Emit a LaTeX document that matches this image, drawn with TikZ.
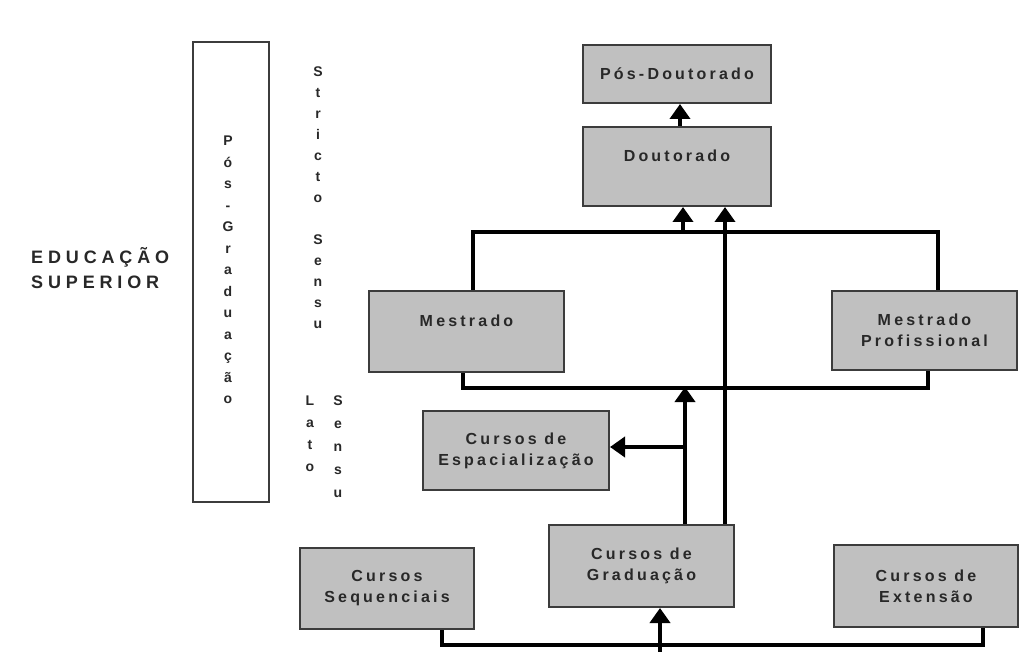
\documentclass[tikz,border=0pt]{standalone}
\usepackage{fontspec}
\usetikzlibrary{arrows.meta}
\setmainfont{Liberation Sans}
\newfontfamily\boxfont{Liberation Sans}[LetterSpace=20]
\newfontfamily\headfont{Liberation Sans}[LetterSpace=27]
\definecolor{boxgray}{RGB}{192,192,192}
\definecolor{edgegray}{RGB}{60,60,60}
\definecolor{inkgray}{RGB}{40,40,40}
\tikzset{
  level/.style={draw=edgegray, line width=2pt, fill=boxgray, inner sep=0pt,
    align=center, text=inkgray,
    font=\boxfont\bfseries\fontsize{16}{21}\selectfont},
  conn/.style={line width=4pt, draw=black},
  arr/.style={conn, -{Triangle[length=15pt,width=20pt]}},
  vlabel/.style={align=center, text=inkgray, inner sep=0pt,
    font=\bfseries\fontsize{14}{21}\selectfont},
}
\begin{document}
\begin{tikzpicture}[x=1pt,y=-1pt]
\useasboundingbox[fill=white] (0,0) rectangle (1023,652);

% left column: labels
\node[anchor=west, align=left, inner sep=0pt, text=inkgray,
      font=\headfont\bfseries\fontsize{18}{25}\selectfont] (edu) at (31,268)
  {EDUCAÇÃO\\SUPERIOR};
\node[draw=edgegray, line width=2pt, fill=white, minimum width=76pt,
      minimum height=460pt, inner sep=0pt] (pg) at (231,272) {};
\node[vlabel, font=\bfseries\fontsize{14}{21.5}\selectfont] (pgtext) at (228,270)
  {P\\ó\\s\\-\\G\\r\\a\\d\\u\\a\\ç\\ã\\o};
\node[vlabel] (stricto) at (318,198)
  {S\\t\\r\\i\\c\\t\\o\\\mbox{}\\S\\e\\n\\s\\u};
\node[vlabel, anchor=north, font=\bfseries\fontsize{14}{22}\selectfont] (lato) at (310,396)
  {L\\a\\t\\o};
\node[vlabel, anchor=north, font=\bfseries\fontsize{14}{23}\selectfont] (latosensu) at (338,396)
  {S\\e\\n\\s\\u};

% course levels
\node[level, minimum width=188pt, minimum height=58pt] (pdout) at (677,74) {Pós-Doutorado};
\node[level, minimum width=188pt, minimum height=79pt] (dout) at (677,166.5) {Doutorado\\\mbox{}};
\node[level, minimum width=195pt, minimum height=81pt] (mes) at (466.5,331.5) {Mestrado\\\mbox{}};
\node[level, minimum width=185pt, minimum height=79pt] (mp) at (924.5,330.5) {Mestrado\\Profissional};
\node[level, minimum width=186pt, minimum height=79pt] (esp) at (516,450.5) {Cursos de\\Espacialização};
\node[level, minimum width=185pt, minimum height=82pt] (grad) at (641.5,566) {Cursos de\\Graduação};
\node[level, minimum width=174pt, minimum height=81pt] (seq) at (387,588.5) {Cursos\\Sequenciais};
\node[level, minimum width=184pt, minimum height=82pt] (ext) at (926,586) {Cursos de\\Extensão};

% junction points on the bus lines
\coordinate (j1) at (683,233);
\coordinate (j2) at (685,387);
\coordinate (src) at (660,652);

% upper bus: both master's levels lead to the doctorate
\draw[conn] ([xshift=6.5pt]mes.north) -- ++(0,-58) -| ([xshift=13.5pt]mp.north);
\draw[arr] (j1) -- (j1 |- dout.south);
\draw[arr] ([xshift=83.5pt]grad.north) -- ([xshift=48pt]dout.south);
\draw[arr] (dout.north -| 680,0) -- (pdout.south -| 680,0);

% lower bus: graduation feeds the master's levels and specialisation
\draw[conn] ([xshift=-3.5pt]mes.south) -- ++(0,15) -| ([xshift=3.5pt]mp.south);
\draw[arr] (j2 |- grad.north) -- (j2);
\draw[arr] ([yshift=3.5pt]esp.east -| j2) -- ([yshift=3.5pt]esp.east);

% base line under the undergraduate courses
\draw[conn] ([xshift=55pt]seq.south) -- ++(0,15) -| ([xshift=57pt]ext.south);
\draw[arr] (src) -- (src |- grad.south);
\end{tikzpicture}
\end{document}
